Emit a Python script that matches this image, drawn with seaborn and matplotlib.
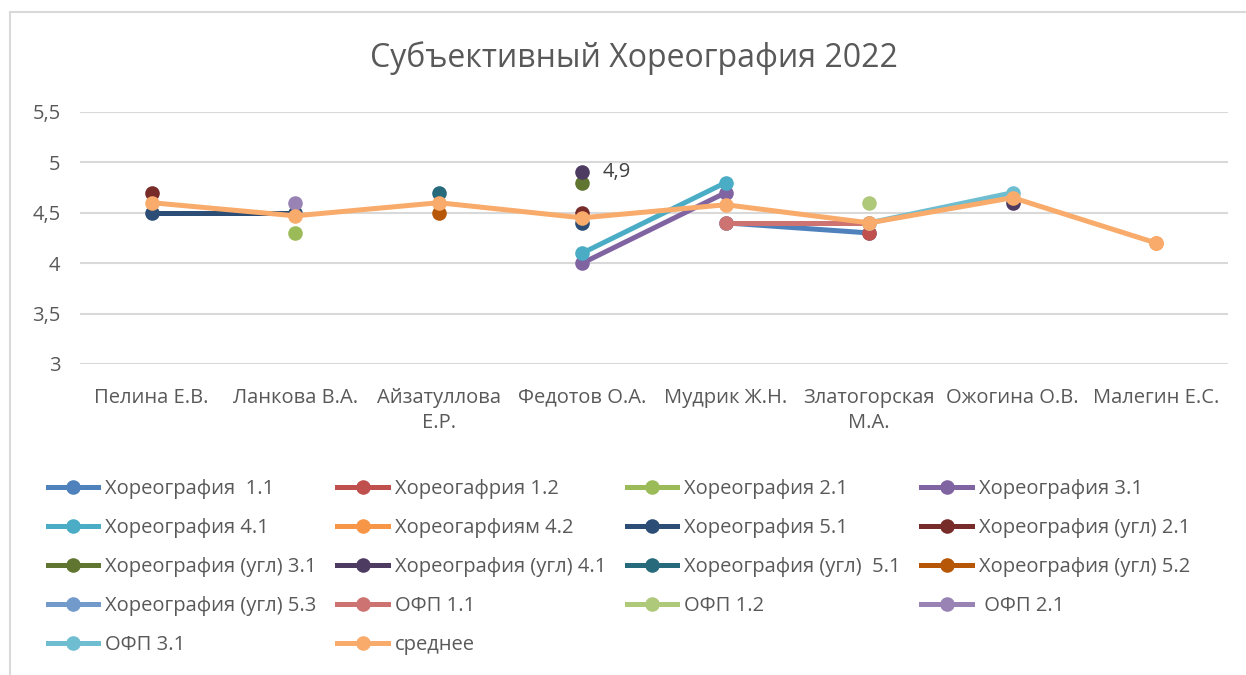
import numpy as np
import pandas as pd
import seaborn as sns
import matplotlib.pyplot as plt
from matplotlib.lines import Line2D
from matplotlib.patches import Rectangle
from matplotlib.ticker import FuncFormatter

nan = np.nan

# categories (teachers)
teachers = ["Пелина Е.В.", "Ланкова В.А.", "Айзатуллова\nЕ.Р.", "Федотов О.А.",
            "Мудрик Ж.Н.", "Златогорская\nМ.А.", "Ожогина О.В.", "Малегин Е.С."]

series_names = [
    "Хореография  1.1", "Хореогафрия 1.2", "Хореография 2.1", "Хореография 3.1",
    "Хореография 4.1", "Хореогарфиям 4.2", "Хореография 5.1", "Хореография (угл) 2.1",
    "Хореография (угл) 3.1", "Хореография (угл) 4.1", "Хореография (угл)  5.1", "Хореография (угл) 5.2",
    "Хореография (угл) 5.3", "ОФП 1.1", "ОФП 1.2", " ОФП 2.1",
    "ОФП 3.1", "среднее",
]

# values (nan = no value)
hor_1_1 = [nan, nan, nan, nan, 4.4, 4.3, nan, nan]
hor_1_2 = [nan, nan, nan, nan, nan, 4.3, nan, nan]
hor_2_1 = [nan, 4.3, nan, nan, nan, nan, nan, nan]
hor_3_1 = [nan, nan, nan, 4.0, 4.7, nan, nan, nan]
hor_4_1 = [nan, nan, nan, 4.1, 4.8, nan, nan, nan]
hor_4_2 = [nan, nan, nan, nan, nan, nan, nan, 4.2]
hor_5_1 = [4.5, 4.5, nan, 4.4, nan, nan, nan, nan]
ugl_2_1 = [4.7, nan, nan, 4.5, nan, nan, nan, nan]
ugl_3_1 = [nan, nan, nan, 4.8, nan, nan, nan, nan]
ugl_4_1 = [nan, nan, nan, 4.9, nan, nan, 4.6, nan]
ugl_5_1 = [nan, nan, 4.7, nan, nan, nan, nan, nan]
ugl_5_2 = [nan, nan, 4.5, nan, nan, nan, nan, nan]
ugl_5_3 = [nan, nan, nan, nan, nan, nan, nan, nan]
ofp_1_1 = [nan, nan, nan, nan, 4.4, 4.4, nan, nan]
ofp_1_2 = [nan, nan, nan, nan, nan, 4.6, nan, nan]
ofp_2_1 = [nan, 4.6, nan, nan, nan, nan, nan, nan]
ofp_3_1 = [nan, nan, nan, nan, nan, 4.4, 4.7, nan]
average = [4.6, 4.47, 4.6, 4.45, 4.58, 4.4, 4.65, 4.2]

all_values = [hor_1_1, hor_1_2, hor_2_1, hor_3_1, hor_4_1, hor_4_2, hor_5_1, ugl_2_1,
              ugl_3_1, ugl_4_1, ugl_5_1, ugl_5_2, ugl_5_3, ofp_1_1, ofp_1_2, ofp_2_1,
              ofp_3_1, average]

colors = ["#4F81BD", "#C0504D", "#9BBB59", "#8064A2", "#4BACC6", "#F79646",
          "#2C4D75", "#772C2A", "#5F7530", "#4D3B62", "#276A7C", "#B65708",
          "#729ACA", "#CD7371", "#AFC97A", "#9983B5", "#6FBDD1", "#F9AB6B"]
palette = dict(zip(series_names, colors))

# long table, lines broken where a value is missing (like Excel gaps)
rows = []
for name, vals in zip(series_names, all_values):
    seg = 0
    for i, v in enumerate(vals):
        if np.isnan(v):
            seg += 1
            continue
        rows.append({"series": name, "x": i, "value": v, "seg": f"{name}_{seg}"})
df = pd.DataFrame(rows)

plt.rcParams["font.family"] = ["Open Sans", "DejaVu Sans"]
txt = "#595959"

fig = plt.figure(figsize=(12.46, 6.75), dpi=100)
ax = fig.add_axes([80 / 1246, 1 - 364 / 675, (1228 - 80) / 1246, (364 - 112) / 675])

sns.lineplot(data=df, x="x", y="value", hue="series", units="seg", estimator=None,
             hue_order=series_names, palette=palette, sort=False, legend=False,
             marker="o", markersize=10.5, markeredgewidth=0, linewidth=3.6, ax=ax)

ax.set_xlim(-0.5, 7.5)
ax.set_ylim(3, 5.5)
ax.set_xticks(range(len(teachers)))
ax.set_xticklabels(teachers, fontsize=14.5, color=txt, linespacing=1.35)
ax.set_yticks([3, 3.5, 4, 4.5, 5, 5.5])
ax.yaxis.set_major_formatter(FuncFormatter(lambda v, p: f"{v:g}".replace(".", ",")))
ax.tick_params(axis="y", labelsize=14.5, labelcolor=txt, length=0, pad=14)
ax.tick_params(axis="x", length=0, pad=17)
ax.grid(axis="y", color="#D9D9D9", lw=1.5)
ax.set_axisbelow(True)
for s in ax.spines.values():
    s.set_visible(False)
ax.set_xlabel("")
ax.set_ylabel("")

ax.annotate("4,9", xy=(3, ugl_4_1[3]), xytext=(15, 0), textcoords="offset points",
            ha="left", va="center", fontsize=14.5, color="#404040")

fig.text(634 / 1246, 1 - 58 / 675, "Субъективный Хореография 2022",
         ha="center", va="center", fontsize=23, color=txt)

# legend laid out row by row like Excel
handles = [Line2D([], [], color=c, lw=3.6, marker="o", ms=10.5, mew=0) for c in colors]
order = [0, 4, 8, 12, 16, 1, 5, 9, 13, 17, 2, 6, 10, 14, 3, 7, 11, 15]
fig.legend([handles[i] for i in order], [series_names[i] for i in order],
           ncol=4, loc="upper left", bbox_to_anchor=(40 / 1246, 1 - 471 / 675),
           frameon=False, fontsize=14.5, labelcolor=txt, handlelength=2.5,
           handletextpad=0.35, columnspacing=1.02, labelspacing=0.94, borderaxespad=0)

fig.patches.append(Rectangle((10 / 1246, -0.1), 1.2, 1 - 12 / 675 + 0.1,
                             transform=fig.transFigure, fill=False,
                             edgecolor="#D9D9D9", lw=1.5))

fig.savefig("out.png", dpi=100)
